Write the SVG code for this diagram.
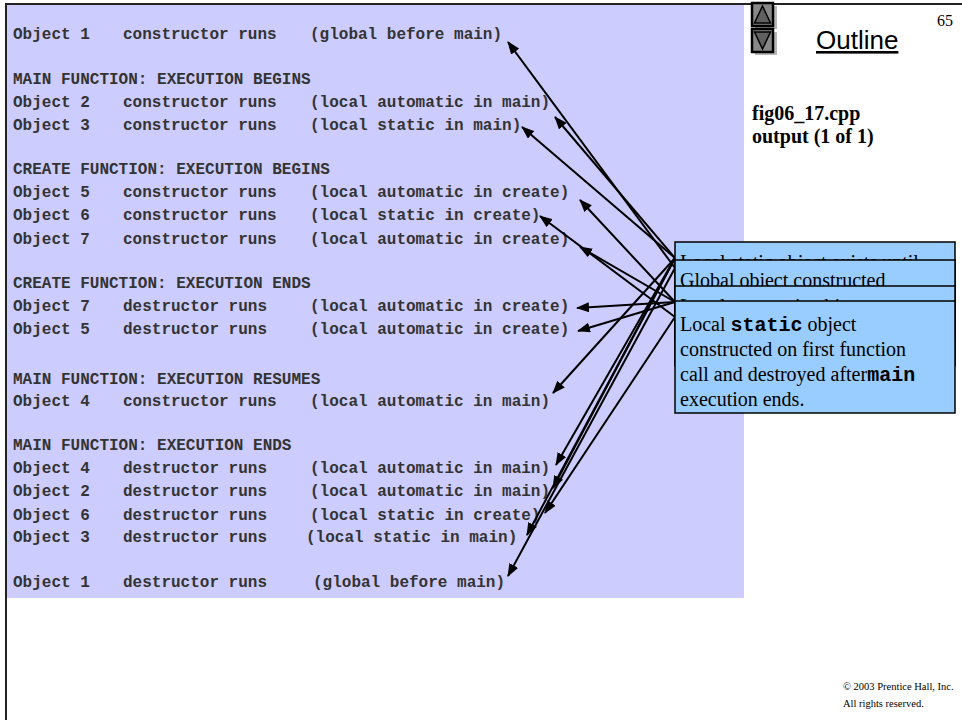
<svg xmlns="http://www.w3.org/2000/svg" width="962" height="720" viewBox="0 0 962 720">
<defs>
<style>
.mono{font-family:"Liberation Mono","Courier New",monospace;font-weight:bold;font-size:16px;fill:#333}
.serif{font-family:"Liberation Serif","Times New Roman",serif;fill:#000}
.box{fill:#99CCFF;stroke:#000;stroke-width:1.5}
.con{stroke:#000;stroke-width:2;fill:none;marker-end:url(#ah)}
.btn{fill:#888;stroke:#000;stroke-width:2.5}
</style>
<marker id="ah" markerWidth="13" markerHeight="10" refX="12" refY="5" orient="auto" markerUnits="userSpaceOnUse"><path d="M0,0 L13,5 L0,10 z" fill="#000"/></marker>
</defs>
<rect x="0" y="0" width="962" height="720" fill="#fff"/>
<rect x="7" y="5" width="737" height="593" fill="#CCCCFF"/>
<path d="M5,4 H962 M6,4 V720" stroke="#222" stroke-width="2" fill="none"/>

<g id="output-text" class="mono">
<text y="39"><tspan x="13">Object 1</tspan><tspan x="123">constructor runs</tspan><tspan x="310">(global before main)</tspan></text>
<text x="13" y="84">MAIN FUNCTION: EXECUTION BEGINS</text>
<text y="107"><tspan x="13">Object 2</tspan><tspan x="123">constructor runs</tspan><tspan x="310">(local automatic in main)</tspan></text>
<text y="130"><tspan x="13">Object 3</tspan><tspan x="123">constructor runs</tspan><tspan x="310">(local static in main)</tspan></text>
<text x="13" y="174">CREATE FUNCTION: EXECUTION BEGINS</text>
<text y="197"><tspan x="13">Object 5</tspan><tspan x="123">constructor runs</tspan><tspan x="310">(local automatic in create)</tspan></text>
<text y="220"><tspan x="13">Object 6</tspan><tspan x="123">constructor runs</tspan><tspan x="310">(local static in create)</tspan></text>
<text y="244"><tspan x="13">Object 7</tspan><tspan x="123">constructor runs</tspan><tspan x="310">(local automatic in create)</tspan></text>
<text x="13" y="288">CREATE FUNCTION: EXECUTION ENDS</text>
<text y="311"><tspan x="13">Object 7</tspan><tspan x="123">destructor runs</tspan><tspan x="310">(local automatic in create)</tspan></text>
<text y="334"><tspan x="13">Object 5</tspan><tspan x="123">destructor runs</tspan><tspan x="310">(local automatic in create)</tspan></text>
<text x="13" y="384">MAIN FUNCTION: EXECUTION RESUMES</text>
<text y="406"><tspan x="13">Object 4</tspan><tspan x="123">constructor runs</tspan><tspan x="310">(local automatic in main)</tspan></text>
<text x="13" y="450">MAIN FUNCTION: EXECUTION ENDS</text>
<text y="473"><tspan x="13">Object 4</tspan><tspan x="123">destructor runs</tspan><tspan x="310">(local automatic in main)</tspan></text>
<text y="496"><tspan x="13">Object 2</tspan><tspan x="123">destructor runs</tspan><tspan x="310">(local automatic in main)</tspan></text>
<text y="520"><tspan x="13">Object 6</tspan><tspan x="123">destructor runs</tspan><tspan x="310">(local static in create)</tspan></text>
<text y="542"><tspan x="13">Object 3</tspan><tspan x="123">destructor runs</tspan><tspan x="306">(local static in main)</tspan></text>
<text y="587"><tspan x="13">Object 1</tspan><tspan x="123">destructor runs</tspan><tspan x="313">(global before main)</tspan></text>
</g>

<g id="connectors">
<line class="con" x1="675" y1="268" x2="508" y2="42"/>
<line class="con" x1="675" y1="258" x2="555" y2="117"/>
<line class="con" x1="675" y1="258" x2="522" y2="127"/>
<line class="con" x1="675" y1="302" x2="580" y2="200"/>
<line class="con" x1="675" y1="317" x2="540" y2="216"/>
<line class="con" x1="675" y1="302" x2="580" y2="247"/>
<line class="con" x1="675" y1="302" x2="577" y2="308"/>
<line class="con" x1="675" y1="302" x2="578" y2="331"/>
<line class="con" x1="675" y1="258" x2="553" y2="393"/>
<line class="con" x1="675" y1="258" x2="556" y2="465"/>
<line class="con" x1="675" y1="258" x2="553" y2="488"/>
<line class="con" x1="675" y1="317" x2="545" y2="513"/>
<line class="con" x1="675" y1="258" x2="527" y2="535"/>
<line class="con" x1="675" y1="268" x2="508" y2="576"/>
</g>

<g id="callout-main-static">
<rect class="box" x="675" y="242" width="280" height="90"/>
<text class="serif" x="680" y="269" font-size="20">Local static object exists until</text>
</g>
<g id="callout-global">
<rect class="box" x="675" y="260" width="280" height="80"/>
<text class="serif" x="680" y="287" font-size="20">Global object constructed</text>
</g>
<g id="callout-create-automatic">
<rect class="box" x="675" y="286" width="280" height="80"/>
<text class="serif" x="680" y="313" font-size="20">Local automatic objects</text>
</g>
<g id="callout-create-static">
<rect class="box" x="675" y="301" width="280" height="112"/>
<text class="serif" font-size="20"><tspan x="680" y="331">Local </tspan><tspan font-family="Liberation Mono, monospace" font-weight="bold">static</tspan><tspan> object</tspan></text>
<text class="serif" x="680" y="356" font-size="20">constructed on first function</text>
<text class="serif" font-size="20"><tspan x="680" y="381">call and destroyed after</tspan><tspan font-family="Liberation Mono, monospace" font-weight="bold">main</tspan></text>
<text class="serif" x="680" y="406" font-size="20">execution ends.</text>
</g>

<g id="nav-up">
<rect x="755" y="6" width="22" height="23" fill="#b8b8b8"/>
<rect class="btn" x="752" y="3" width="21" height="23"/>
<path d="M762.5,6 L770.5,23 L754.5,23 z" fill="#606060" stroke="#000" stroke-width="1.5"/>
</g>
<g id="nav-down">
<rect x="755" y="32" width="22" height="23" fill="#b8b8b8"/>
<rect class="btn" x="752" y="29" width="21" height="23"/>
<path d="M754.5,32 L770.5,32 L762.5,49 z" fill="#606060" stroke="#000" stroke-width="1.5"/>
</g>
<g id="outline-link">
<text x="816" y="49" font-family="Liberation Sans, Arial, sans-serif" font-size="26" fill="#000" text-decoration="underline">Outline</text>
</g>
<text class="serif" x="937" y="26" font-size="16">65</text>
<g id="caption">
<text class="serif" x="752" y="120" font-size="20" font-weight="bold">fig06_17.cpp</text>
<text class="serif" x="752" y="143" font-size="20" font-weight="bold">output (1 of 1)</text>
</g>
<g id="copyright">
<text class="serif" x="843" y="690" font-size="10.5">© 2003 Prentice Hall, Inc.</text>
<text class="serif" x="843" y="707" font-size="10.5">All rights reserved.</text>
</g>
</svg>
